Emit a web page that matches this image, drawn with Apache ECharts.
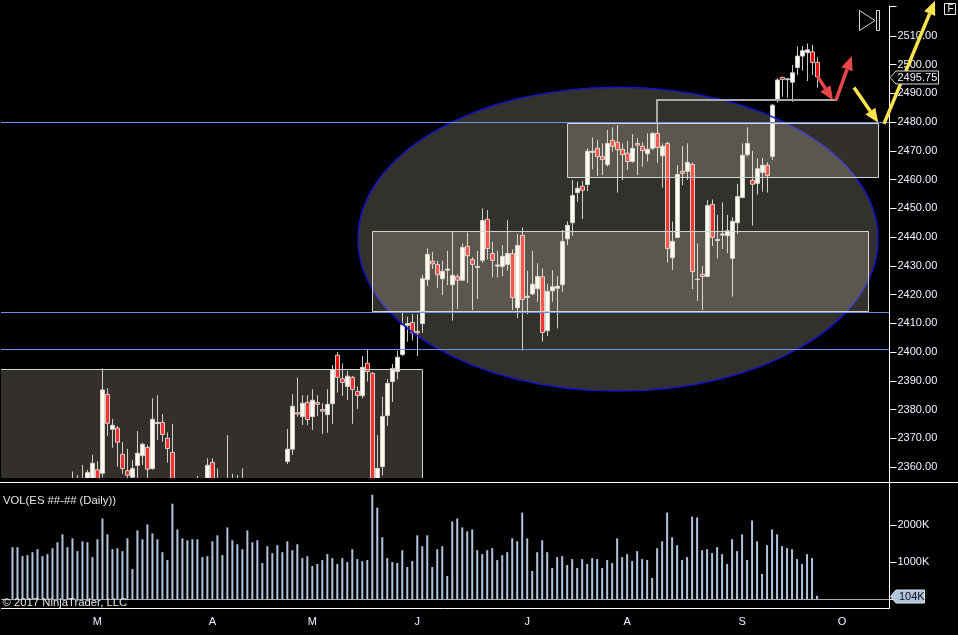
<!DOCTYPE html>
<html><head><meta charset="utf-8">
<style>html,body{margin:0;padding:0;background:#000}#c{width:958px;height:635px}</style>
<script src="https://cdn.jsdelivr.net/npm/echarts@6/dist/echarts.min.js"></script></head>
<body><div id="c"></div>
<script>
// Daily bars, first bar sits in slot 2 of the time axis
const firstSlot = 2, slotCount = 178;
const opens = [
2338,2342,2345,2341,2344,2347,2345,2348,2346,2349,2347,2350,2348,2352,2350,2353,2350,2359,2357.8,2385.3,
2373.1,2373.5,2364.4,2358.7,2356.4,2360.5,2363.9,2366.8,2359.4,2375.1,2375.5,2370,2365.1,2350,2347,2349,2346,2350,2352,2350,
2361.6,2352,2354,2351,2353,2350,2352,2352,2350,2352,2349,2351,2348,2351,2350,
2361.9,2366.2,2378.9,2377.5,2382.5,2377.5,2382.4,2380,2378.2,2382,2398.9,2390.7,2388,2391.2,2386.3,2384.8,2396.1,2392.6,2350,2360.1,
2377.9,2389.7,2393.2,2399.1,2409.3,2410.3,2407.2,2409.9,2425.2,2431.6,2430.5,2425.5,2428.5,2423.4,2426.2,2425,2436.8,2432.2,2429.4,2431.9,
2446.2,2434.3,2429.9,2429.8,2430.5,2434.3,2415.4,2440.6,2419,2420.2,2422,2426.2,2407.4,2421.3,2422.2,2423.4,2439.4,2445,2455.5,2457.7,
2458.3,2469.5,2470.9,2468.1,2465.2,2473.7,2473,2470.6,2469.2,2466.3,2472.6,2471.6,2469,2470.9,2476.1,2468.3,2472.6,2432.8,2439.9,2462.9,
2462.9,2465.3,2425.2,2427,2426.3,2451.4,2438.8,2440.7,2440.5,2432.6,2445,2453.8,2468.7,2459.8,2458.7,2462.5,2465,2468.1,2487.5,2495.6,
2494.8,2493.9,2499,2503,2504.2,2504.5,2500.8];
const closes = [
2342,2345,2341,2344,2347,2345,2348,2346,2349,2347,2350,2348,2352,2350,2353,2358.1,2361.3,2350,2386.8,2375.2,
2374.5,2368.6,2359.4,2357.1,2359.5,2364.8,2367.9,2359.2,2376.6,2375.5,2371.3,2366.4,2350,2347,2349,2346,2350,2352,2350,2360.6,
2352,2354,2351,2353,2350,2352,2354,2350,2352,2349,2351,2348,2351,2350,2352,
2366.2,2381.1,2378.4,2382.2,2376.5,2383.2,2381.8,2379.4,2381.8,2393.9,2391.2,2389.4,2391.6,2386.9,2384.9,2394.7,2393.2,2352,2359.5,2377.6,
2389.1,2394.3,2398.2,2409.4,2409.9,2406.7,2406.7,2425.5,2434,2430.7,2426.9,2428.1,2428.9,2426.7,2425,2436.4,2433.5,2430.5,2429.8,2445.8,
2436,2431.9,2430.3,2433.3,2434.3,2418.9,2437.1,2418.3,2419.4,2423.6,2426.3,2406.8,2421.1,2422.7,2422.9,2438.5,2444.1,2454.5,2457,2456.3,
2469.9,2469.9,2468,2467,2472.6,2471.6,2470.4,2468.7,2466.3,2470.9,2472,2470.1,2470.6,2476.1,2471.2,2471.6,2436,2438.5,2461.8,2462.2,
2466,2428,2425.4,2426.3,2451,2439.9,2439.2,2441.1,2442.2,2445.5,2454.1,2468.5,2472.6,2458.4,2463.8,2465,2461.4,2485.9,2494.7,2494.9,
2495.1,2497.2,2503,2504.9,2505.2,2500.8,2495.75];
const lows = [
2335,2340,2338,2339,2342,2343,2344,2344,2345,2345,2346,2346,2346,2347,2348,2351,2348,2348,2356.4,2370.8,
2366.7,2360.1,2357.6,2356,2354,2355,2360.7,2354,2359,2369.4,2368.8,2361.5,2347,2345,2344,2344,2345,2348,2348,2349,
2350,2350,2349,2349,2348,2348,2349,2348,2348,2347,2347,2346,2347,2348,2349,
2361,2364.2,2377.5,2374.6,2374.6,2372.9,2377.8,2371.5,2371.9,2375,2385.9,2384.7,2383.3,2375,2380.2,2383.9,2389.7,2345,2348,2357,
2374.3,2382.6,2390.5,2398.6,2403.6,2404,2398.6,2406.7,2423,2428.9,2422.3,2419.8,2423.3,2410.9,2415,2424.8,2424.1,2414.6,2418.4,2431,
2432.2,2426,2426,2426.4,2428.3,2414.6,2411.8,2400.5,2413.2,2419.8,2417.5,2403.6,2405.6,2417.5,2408.2,2421,2437.2,2440.4,2452.3,2446.3,
2456,2463.6,2461.3,2461.6,2464.5,2469.7,2455.5,2459.9,2463.4,2465.9,2461.6,2464.5,2466.3,2470.3,2465.9,2457.2,2431.1,2428.6,2439.6,2458.1,
2459.9,2421.9,2417.8,2414.6,2426,2436.9,2432.6,2435.9,2434.4,2419.3,2441.1,2453.5,2468,2444,2454.8,2455.8,2455.5,2466.8,2486.8,2488.9,
2488.5,2487.1,2496.4,2497.9,2494.3,2496.4,2492];
const highs = [
2345,2348,2347,2346,2349,2350,2351,2350,2352,2351,2353,2352,2358.4,2357.2,2360.7,2359,2364.2,2362,2394.3,2387.4,
2376.7,2374.3,2368.7,2366.3,2362.4,2372.5,2368.4,2367.7,2383.9,2385,2378.4,2372,2375,2353,2352,2351,2353,2356.9,2354,2363,
2363,2359.5,2355,2371.1,2357.6,2357.2,2359.5,2354,2354,2353,2353,2353,2353,2354,2354,
2373.2,2385.3,2391.1,2385,2385,2387.1,2385,2382.2,2387.1,2395.5,2400,2396,2393.4,2391.7,2388,2398.6,2400.7,2393,2371.1,2384.4,
2390.6,2395.8,2400.4,2413.8,2412.3,2413.2,2413.2,2426.8,2436.1,2434.9,2431.8,2431.8,2435.2,2442.1,2427.1,2437.8,2441.6,2433,2435.2,2450,
2449.4,2438.4,2435.3,2437.2,2445.9,2435.7,2441.1,2443.4,2428.3,2435.2,2430.9,2429.1,2423.7,2428.5,2426.4,2442.5,2445.5,2459.9,2459.3,2459.6,
2470.9,2474.7,2473.8,2472.6,2477.3,2478.2,2479,2472.6,2473.5,2475.9,2474.4,2473,2476.1,2476.5,2482,2472.6,2473.2,2445.4,2465.1,2471.7,
2472.6,2465.9,2437.8,2429.9,2452.9,2453.1,2447.7,2452.1,2447.7,2446.9,2458.5,2472.6,2478.2,2470,2467.4,2467.6,2466,2486.3,2495.3,2495.8,
2495.3,2499.9,2506.3,2506.5,2507.4,2506.9,2502.6];
const volumes = [
1407,1407,1168,1195,1274,1354,1168,1221,1381,1540,1752,1407,1646,1301,1566,1540,1142,1620,2177,1752,
1354,1381,1301,1646,823,1858,1620,2018,1779,1620,1274,1062,2575,1885,1646,1593,1620,1620,1142,1168,
1566,1726,1195,1938,1593,1487,1354,1858,1540,1593,982,1434,1248,1460,1274,1566,1327,1487,1115,1168,
903,956,1062,1221,1115,956,1115,1009,1354,1089,1035,1062,2814,2469,1673,1115,1009,982,1327,876,
1035,1726,1434,1726,876,1354,1434,637,
2097,2177,1938,1832,1885,1327,1221,1327,1381,1062,1195,1274,1646,1566,2336,1646,770,1274,1593,1274,
850,1142,1168,929,1089,850,1089,956,1115,1089,850,1062,982,1646,1142,1221,1035,1301,1089,1062,
584,1381,1566,2336,1673,1460,1062,1142,2230,2204,1327,1354,1248,1407,1221,956,1620,1301,1752,1062,
2124,1566,690,1460,1885,1752,1434,1381,1354,1089,956,1221,1115,104];
const monthLabels = ['M','A','M','J','J','A','S','O'];
const monthSlots = [19,42,62,83,105,125,148,168];
const priceTicks = [2360,2370,2380,2390,2400,2410,2420,2430,2440,2450,2460,2470,2480,2490,2500,2510];
const volumeTicks = [0,1000,2000];
const lastPrice = 2495.75, lastVolume = 104;
// Annotations in [slot, price] units
const zoneEllipse = [[123.1,2439.3,52,52.9]];
const zoneBoxes = [[-3,2340,83.9,2394.1],[73.9,2414.3,173.1,2442.1],[112.9,2460.9,175.1,2479.7]];
const levelLines = [2479.9,2414,2401];
const pivotLine = [[130.9,2479.7],[130.9,2487.7],[166.9,2487.7]];
const redArrows = [[162.96,2496.1,166.1,2487.6],[166.7,2487.7,169.84,2503]];
const yellowArrows = [[170.3,2492.1,175.16,2479.8],[176.3,2479.4,186.5,2522.3]];

const FONT = 'Liberation Sans', TXT = '#eef3ff';
const slotNames = Array.from({length:slotCount},()=> '');
monthSlots.forEach((s,i)=>{ slotNames[s]=monthLabels[i]; });
const lead = Array.from({length:firstSlot},()=> null);
const candleData = lead.map(()=>['-','-','-','-']).concat(opens.map((o,i)=>[o,closes[i],lows[i],highs[i]]));
const volumeData = lead.concat(volumes);
const isMonth = i => monthSlots.includes(i);
const overlay = (data,z,render,clip) => ({type:'custom',xAxisIndex:1,yAxisIndex:0,z,clip:clip!==false,silent:true,data,renderItem:render,animation:false});

const chart = echarts.init(document.getElementById('c'),null,{renderer:'canvas'});
chart.setOption({
 backgroundColor:'#000',animation:false,
 grid:[{left:0,top:6,width:890,height:472},{left:-0.5,top:482,width:890,height:126}],
 xAxis:[
  {type:'category',gridIndex:0,data:slotNames,show:false},
  {type:'value',gridIndex:0,min:-0.5,max:177.5,show:false},
  {type:'category',gridIndex:1,data:slotNames,
   axisLine:{onZero:false,lineStyle:{color:'#fff',width:1}},
   axisTick:{alignWithLabel:true,interval:i=>isMonth(i),length:5,lineStyle:{color:'#fff'}},
   axisLabel:{interval:i=>isMonth(i),margin:8,color:TXT,fontFamily:FONT,fontSize:11},splitLine:{show:false}}
 ],
 yAxis:[
  {type:'value',gridIndex:0,position:'right',offset:-0.5,min:2356.15,max:2520.44,scale:true,
   axisLine:{show:true,onZero:false,lineStyle:{color:'#fff'}},
   axisTick:{show:true,length:7,customValues:priceTicks.concat([2520.44]),lineStyle:{color:'#fff'}},
   axisLabel:{customValues:priceTicks,margin:8,padding:[6,0,0,0],color:TXT,fontFamily:FONT,fontSize:11,formatter:v=>v.toFixed(2)},
   splitLine:{show:false}},
  {type:'value',gridIndex:1,position:'right',min:-222.5,max:3155.5,
   axisLine:{show:true,onZero:false,lineStyle:{color:'#fff'}},
   axisTick:{show:true,length:7,customValues:volumeTicks,lineStyle:{color:'#fff'}},
   axisLabel:{customValues:volumeTicks,margin:8,padding:[6,0,0,0],color:TXT,fontFamily:FONT,fontSize:11,formatter:v=>v+'K'},
   splitLine:{show:false}}
 ],
 series:[
  {type:'candlestick',xAxisIndex:0,yAxisIndex:0,z:2,clip:true,barWidth:4,data:candleData,silent:true,
   itemStyle:{color:'#fffff6',color0:'#ff0000',borderColor:'#c8c8c8',borderColor0:'#c8c8c8',borderWidth:1}},
  overlay(zoneEllipse,5,(p,api)=>{
    const c=api.coord([api.value(0),api.value(1)]),
          e=api.coord([api.value(0)+api.value(2),api.value(1)+api.value(3)]);
    return {type:'ellipse',shape:{cx:c[0],cy:c[1],rx:e[0]-c[0],ry:c[1]-e[1]},
            style:{fill:'rgba(255,245,220,0.2)',stroke:'#1414c8',lineWidth:1.5}};
  },false),
  overlay(zoneBoxes,6,(p,api)=>{
    const a=api.coord([api.value(0),api.value(1)]),b=api.coord([api.value(2),api.value(3)]);
    const x1=Math.round(a[0]),x2=Math.round(b[0]),y1=Math.round(b[1]),y2=Math.round(a[1]);
    return {type:'rect',shape:{x:x1+.5,y:y1+.5,width:x2-x1,height:y2-y1},
            style:{fill:'rgba(255,240,215,0.2)',stroke:'#d4d4d4',lineWidth:1}};
  }),
  overlay(levelLines.map(v=>[-0.5,v]),7,(p,api)=>{
    const a=api.coord([-0.5,api.value(1)]),b=api.coord([177.5,api.value(1)]);
    const y=Math.round(a[1])+.5;
    return {type:'line',shape:{x1:a[0],y1:y,x2:b[0]-0.5,y2:y},style:{stroke:'#6f8fe8',lineWidth:1}};
  }),
  overlay(pivotLine,8,(p,api)=>{
    if(p.dataIndex===0){
      return {type:'polyline',shape:{points:pivotLine.map(q=>api.coord(q))},style:{fill:null,stroke:'#a8a8a8',lineWidth:2}};
    }
    return null;
  },false),
  ...[[redArrows,'#e8474a'],[yellowArrows,'#fbe34f']].map(([list,col])=>overlay(list,9,(p,api)=>{
    const a=api.coord([api.value(0),api.value(1)]),b=api.coord([api.value(2),api.value(3)]);
    const dx=b[0]-a[0],dy=b[1]-a[1],L=Math.hypot(dx,dy),ux=dx/L,uy=dy/L,hl=14,hw=6;
    const n=[b[0]-ux*hl,b[1]-uy*hl];
    return {type:'group',children:[
      {type:'line',shape:{x1:a[0],y1:a[1],x2:n[0],y2:n[1]},style:{stroke:col,lineWidth:3.5}},
      {type:'polygon',shape:{points:[b,[n[0]-uy*hw,n[1]+ux*hw],[n[0]+uy*hw,n[1]-ux*hw]]},style:{fill:col}}
    ]};
  },false)),
  overlay([[0,lastPrice]],10,(p,api)=>{
    const y=Math.round(api.coord([0,lastPrice])[1])+.5;
    return {type:'group',children:[
      {type:'polygon',shape:{points:[[890,y],[896,y-6.5],[938.5,y-6.5],[938.5,y+6.5],[896,y+6.5]]},style:{fill:'#000',stroke:'#dcdcdc',lineWidth:1}},
      {type:'text',x:897.5,y:y+0.5,style:{text:lastPrice.toFixed(2),fill:TXT,font:'11px "'+FONT+'"',textVerticalAlign:'middle'}}
    ]};
  },false),
  {type:'bar',xAxisIndex:2,yAxisIndex:1,barWidth:2,data:volumeData,silent:true,z:4,
   itemStyle:{color:'#b0c4de'},
   markLine:{silent:true,symbol:'none',label:{show:false},lineStyle:{color:'#a8a8a8',width:1,type:'solid'},data:[{yAxis:0}]}},
  {type:'custom',xAxisIndex:2,yAxisIndex:1,z:10,silent:true,clip:false,data:[[0,lastVolume]],renderItem:(p,api)=>{
    const y=Math.round(api.coord([0,lastVolume])[1])+.5;
    return {type:'group',children:[
      {type:'polygon',shape:{points:[[890.5,y],[896,y-6.5],[924.5,y-6.5],[924.5,y+6.5],[896,y+6.5]]},style:{fill:'#b0c4de',stroke:'#dfe6f0',lineWidth:1}},
      {type:'text',x:899,y:y+0.5,style:{text:lastVolume+'K',fill:'#111',font:'11px "'+FONT+'"',textVerticalAlign:'middle'}}
    ]};
  }}
 ],
 graphic:[
  {type:'rect',z:3,silent:true,shape:{x:0,y:478,width:889,height:130},style:{fill:'#000'}},
  {type:'rect',z:19,silent:true,shape:{x:0,y:0,width:1,height:612},style:{fill:'#000'}},
  {type:'line',z:20,silent:true,shape:{x1:0,y1:482.5,x2:958,y2:482.5},style:{stroke:'#fff',lineWidth:1}},
  {type:'line',z:20,silent:true,shape:{x1:889.5,y1:478,x2:889.5,y2:482},style:{stroke:'#fff',lineWidth:1}},
  {type:'text',z:20,silent:true,x:3,y:500.5,style:{text:'VOL(ES ##-## (Daily))',fill:'#e6e6e6',font:'11.3px "'+FONT+'"',textVerticalAlign:'middle'}},
  {type:'text',z:20,silent:true,x:2.5,y:602.5,style:{text:'© 2017 NinjaTrader, LLC',fill:'#e6e6e6',font:'11.3px "'+FONT+'"',textVerticalAlign:'middle'}},
  {type:'polygon',z:20,silent:true,shape:{points:[[859.5,10.5],[875,20.5],[859.5,30.5]]},style:{fill:'#000',stroke:'#d8d8d8',lineWidth:1}},
  {type:'rect',z:20,silent:true,shape:{x:876.5,y:10.5,width:3,height:20},style:{fill:'#000',stroke:'#d8d8d8',lineWidth:1}},
  {type:'rect',z:20,silent:true,shape:{x:944.5,y:3.5,width:11,height:11},style:{fill:'#000',stroke:'#e8e8e8',lineWidth:1}},
  {type:'text',z:21,silent:true,x:947.5,y:9.5,style:{text:'F',fill:'#eef3ff',font:'10px "'+FONT+'"',textVerticalAlign:'middle'}}
 ]
});
</script></body></html>
